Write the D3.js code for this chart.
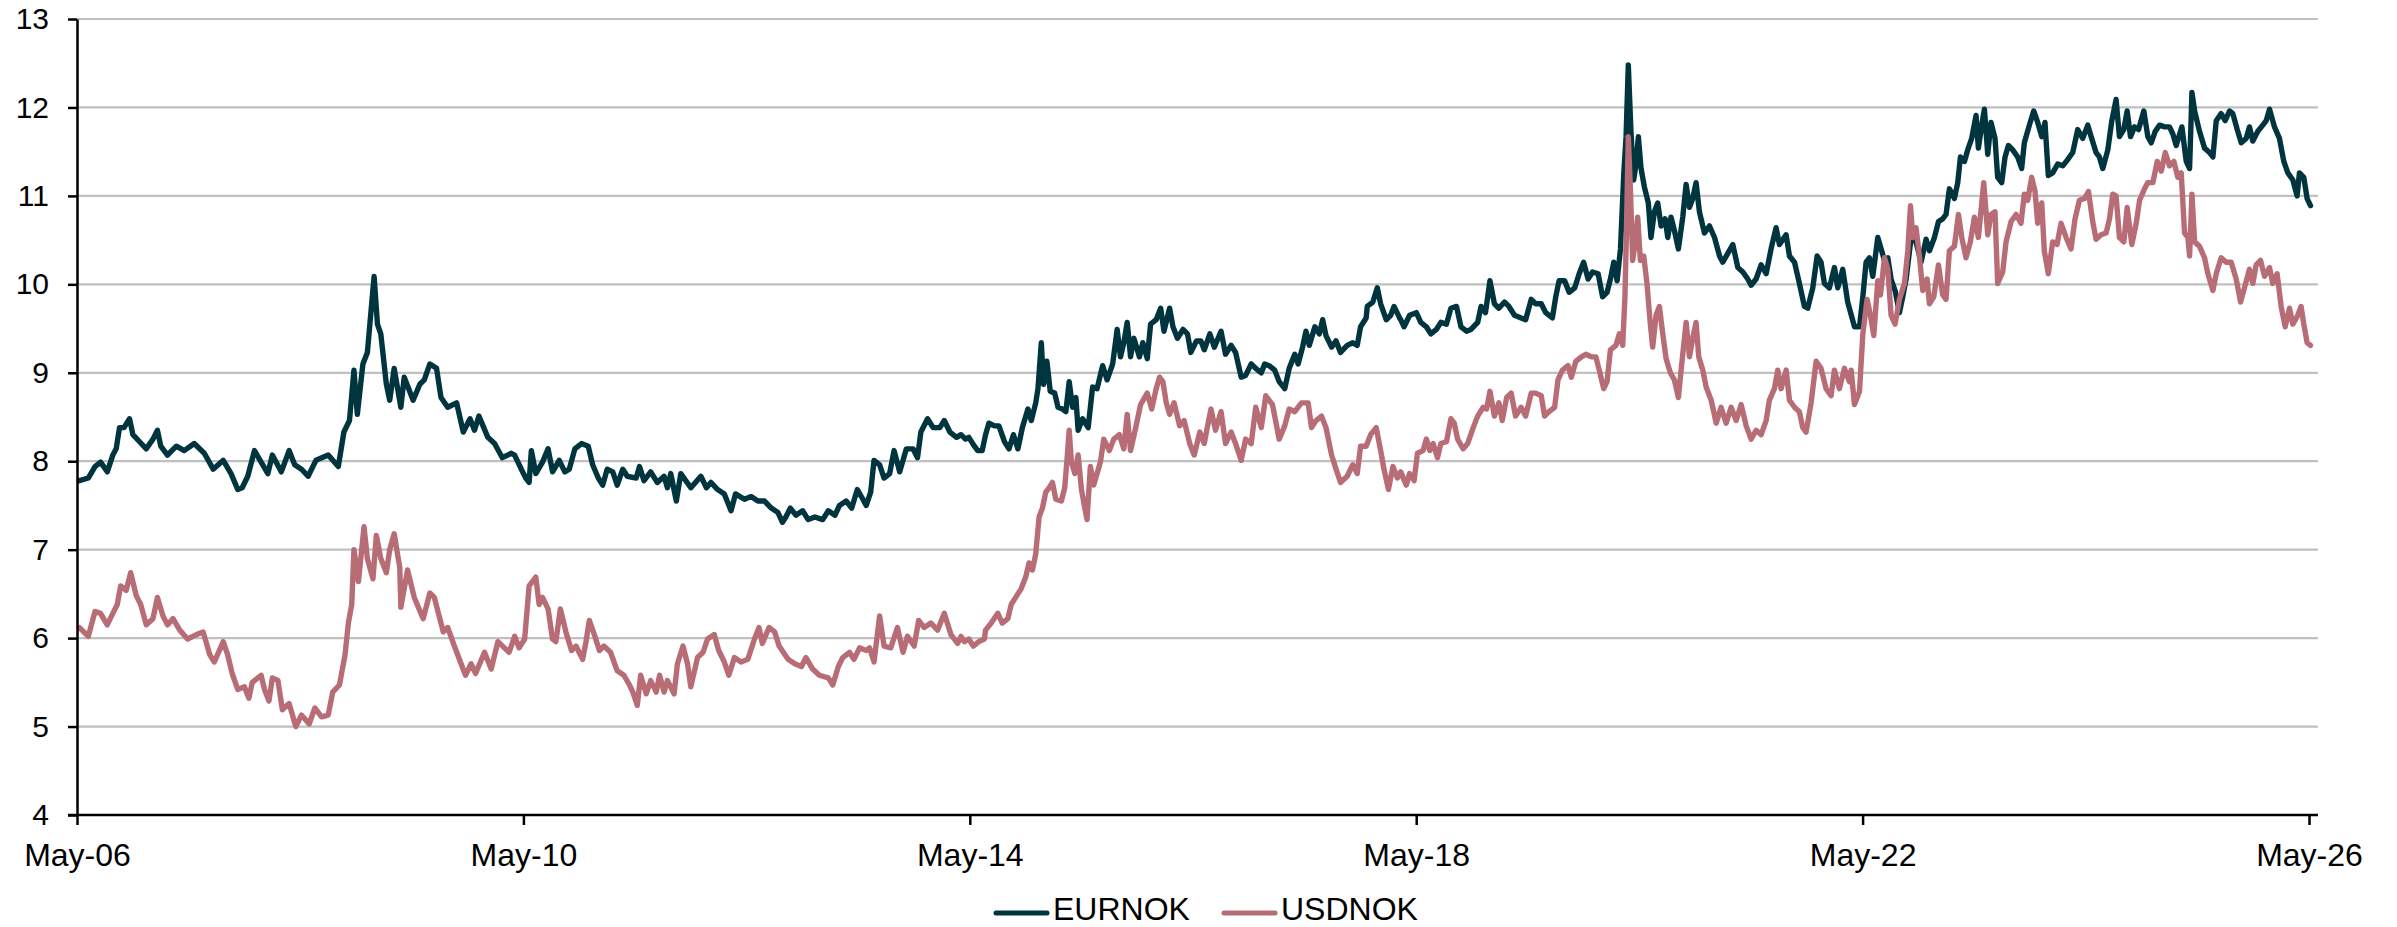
<!DOCTYPE html>
<html><head><meta charset="utf-8">
<script src="https://cdn.jsdelivr.net/npm/d3@7"></script>
<style>
html,body{margin:0;padding:0;background:#fff;}
svg{display:block;font-family:"Liberation Sans",Arial,sans-serif;}
</style></head><body>
<svg id="chart" width="2397" height="927"></svg>
<script>
// ---------- DATA ----------
const seriesNames = ["EURNOK", "USDNOK"];
const xTickYears = [2006, 2010, 2014, 2018, 2022, 2026];
const xTickLabels = ["May-06", "May-10", "May-14", "May-18", "May-22", "May-26"];
const yTicks = [4, 5, 6, 7, 8, 9, 10, 11, 12, 13];

// [decimal year, value]
const eurnok = [
[2006.35,7.78],[2006.43,7.81],[2006.49,7.94],[2006.54,7.99],[2006.60,7.88],[2006.65,8.07],[2006.68,8.14],[2006.71,8.38],[2006.75,8.38],[2006.80,8.48],[2006.83,8.30],[2006.89,8.22],[2006.95,8.14],
[2007.01,8.25],[2007.05,8.35],[2007.08,8.17],[2007.14,8.07],[2007.22,8.17],[2007.29,8.12],[2007.38,8.20],[2007.47,8.09],[2007.55,7.91],[2007.64,8.01],[2007.71,7.86],[2007.77,7.68],[2007.81,7.70],[2007.86,7.83],[2007.92,8.12],[2007.98,7.99],
[2008.04,7.86],[2008.08,8.07],[2008.16,7.88],[2008.23,8.12],[2008.28,7.96],[2008.34,7.91],[2008.40,7.83],[2008.47,8.01],[2008.58,8.07],[2008.67,7.94],[2008.72,8.33],[2008.77,8.46],[2008.81,9.03],[2008.84,8.53],[2008.89,9.10],[2008.93,9.23],[2008.99,10.09],
[2009.02,9.55],[2009.05,9.44],[2009.10,8.87],[2009.13,8.69],[2009.17,9.05],[2009.23,8.61],[2009.26,8.95],[2009.34,8.69],[2009.40,8.87],[2009.44,8.92],[2009.49,9.10],[2009.55,9.05],[2009.59,8.72],[2009.65,8.61],[2009.73,8.66],[2009.79,8.33],[2009.85,8.48],[2009.89,8.35],[2009.93,8.51],
[2010.01,8.27],[2010.07,8.20],[2010.14,8.04],[2010.22,8.09],[2010.25,8.07],[2010.31,7.91],[2010.35,7.81],[2010.38,7.76],[2010.40,8.12],[2010.44,7.86],[2010.50,7.99],[2010.55,8.14],[2010.59,7.88],[2010.65,8.01],[2010.70,7.88],[2010.74,7.91],[2010.79,8.14],[2010.85,8.20],[2010.91,8.17],[2010.95,7.96],
[2011.00,7.81],[2011.04,7.73],[2011.08,7.91],[2011.13,7.88],[2011.17,7.73],[2011.22,7.91],[2011.26,7.83],[2011.34,7.81],[2011.37,7.94],[2011.41,7.78],[2011.47,7.88],[2011.53,7.76],[2011.59,7.83],[2011.62,7.70],[2011.65,7.86],[2011.70,7.55],[2011.74,7.86],[2011.83,7.70],[2011.92,7.83],[2011.97,7.70],
[2012.01,7.76],[2012.07,7.68],[2012.13,7.63],[2012.19,7.44],[2012.23,7.63],[2012.31,7.57],[2012.37,7.60],[2012.43,7.55],[2012.49,7.55],[2012.55,7.47],[2012.61,7.42],[2012.65,7.31],[2012.68,7.37],[2012.72,7.47],[2012.77,7.39],[2012.83,7.44],[2012.88,7.34],[2012.94,7.37],
[2013.01,7.34],[2013.06,7.44],[2013.12,7.39],[2013.16,7.50],[2013.22,7.55],[2013.27,7.47],[2013.32,7.68],[2013.37,7.57],[2013.40,7.50],[2013.44,7.65],[2013.47,8.01],[2013.52,7.96],[2013.56,7.81],[2013.61,7.86],[2013.65,8.12],[2013.70,7.88],[2013.76,8.14],[2013.82,8.14],[2013.86,8.04],[2013.89,8.33],[2013.95,8.48],
[2014.00,8.38],[2014.06,8.38],[2014.10,8.46],[2014.15,8.33],[2014.21,8.27],[2014.25,8.30],[2014.29,8.25],[2014.32,8.27],[2014.37,8.17],[2014.40,8.12],[2014.44,8.12],[2014.47,8.30],[2014.50,8.43],[2014.55,8.40],[2014.59,8.40],[2014.64,8.22],[2014.68,8.14],[2014.72,8.30],[2014.76,8.14],[2014.80,8.38],[2014.85,8.59],[2014.88,8.46],[2014.92,8.66],[2014.94,8.82],[2014.97,9.34],[2014.99,8.87],
[2015.02,9.13],[2015.05,8.79],[2015.09,8.77],[2015.12,8.61],[2015.16,8.59],[2015.19,8.56],[2015.22,8.90],[2015.25,8.61],[2015.28,8.72],[2015.30,8.35],[2015.34,8.48],[2015.39,8.38],[2015.43,8.84],[2015.47,8.82],[2015.52,9.08],[2015.56,8.92],[2015.61,9.10],[2015.65,9.49],[2015.68,9.18],[2015.71,9.34],[2015.74,9.57],[2015.77,9.18],[2015.80,9.39],[2015.85,9.18],[2015.88,9.34],[2015.92,9.16],[2015.95,9.55],
[2016.00,9.60],[2016.04,9.73],[2016.07,9.47],[2016.12,9.73],[2016.15,9.52],[2016.19,9.39],[2016.24,9.49],[2016.28,9.44],[2016.31,9.23],[2016.36,9.36],[2016.40,9.36],[2016.43,9.26],[2016.48,9.44],[2016.52,9.29],[2016.58,9.47],[2016.62,9.21],[2016.67,9.31],[2016.71,9.23],[2016.76,8.95],[2016.80,8.97],[2016.85,9.10],[2016.89,9.05],[2016.94,9.00],[2016.97,9.10],
[2017.01,9.08],[2017.06,9.03],[2017.10,8.90],[2017.15,8.82],[2017.19,9.05],[2017.24,9.21],[2017.27,9.10],[2017.31,9.29],[2017.34,9.47],[2017.37,9.31],[2017.42,9.52],[2017.46,9.44],[2017.49,9.60],[2017.52,9.42],[2017.57,9.29],[2017.61,9.36],[2017.65,9.23],[2017.71,9.31],[2017.76,9.34],[2017.80,9.31],[2017.83,9.52],[2017.88,9.62],[2017.89,9.75],[2017.94,9.80],[2017.98,9.96],
[2018.01,9.78],[2018.06,9.60],[2018.10,9.65],[2018.13,9.75],[2018.18,9.62],[2018.19,9.60],[2018.22,9.52],[2018.27,9.65],[2018.33,9.68],[2018.37,9.57],[2018.42,9.52],[2018.46,9.44],[2018.51,9.49],[2018.55,9.57],[2018.60,9.55],[2018.64,9.73],[2018.69,9.75],[2018.73,9.52],[2018.78,9.47],[2018.82,9.49],[2018.88,9.57],[2018.91,9.75],[2018.95,9.68],[2018.99,10.04],
[2019.03,9.78],[2019.07,9.73],[2019.12,9.80],[2019.16,9.75],[2019.21,9.65],[2019.27,9.62],[2019.31,9.60],[2019.36,9.83],[2019.40,9.78],[2019.45,9.78],[2019.49,9.68],[2019.55,9.62],[2019.58,9.86],[2019.61,10.04],[2019.66,10.04],[2019.70,9.91],[2019.75,9.96],[2019.79,10.12],[2019.83,10.25],[2019.87,10.06],[2019.91,10.14],[2019.96,10.12],
[2020.00,9.86],[2020.04,9.91],[2020.07,10.06],[2020.10,10.25],[2020.13,10.04],[2020.16,10.40],[2020.19,11.26],[2020.21,11.67],[2020.23,12.48],[2020.254,11.72],[2020.278,11.18],[2020.299,11.36],[2020.320,11.67],[2020.344,11.31],[2020.374,11.10],[2020.409,10.92],[2020.433,10.53],[2020.463,10.82],[2020.493,10.92],[2020.523,10.66],[2020.559,10.74],[2020.583,10.53],[2020.612,10.76],[2020.642,10.61],[2020.678,10.40],[2020.717,10.76],[2020.747,11.13],[2020.777,10.87],[2020.806,10.97],[2020.836,11.15],[2020.866,10.82],[2020.911,10.58],[2020.956,10.66],
[2021.001,10.53],[2021.046,10.32],[2021.075,10.25],[2021.120,10.35],[2021.165,10.45],[2021.210,10.19],[2021.255,10.14],[2021.299,10.06],[2021.329,9.99],[2021.374,10.06],[2021.419,10.22],[2021.464,10.12],[2021.508,10.40],[2021.553,10.64],[2021.583,10.45],[2021.643,10.56],[2021.673,10.32],[2021.718,10.25],[2021.762,10.01],[2021.807,9.75],[2021.837,9.73],[2021.882,9.96],[2021.921,10.32],[2021.956,10.25],[2021.986,10.01],
[2022.031,9.96],[2022.076,10.19],[2022.106,9.96],[2022.151,10.17],[2022.195,9.80],[2022.256,9.52],[2022.301,9.52],[2022.331,9.86],[2022.360,10.25],[2022.390,10.30],[2022.420,10.09],[2022.465,10.53],[2022.495,10.40],[2022.525,10.27],[2022.555,10.30],[2022.584,10.06],[2022.620,9.93],[2022.659,9.68],[2022.689,9.86],[2022.719,10.06],[2022.764,10.53],[2022.808,10.48],[2022.853,10.25],[2022.898,10.51],[2022.928,10.38],[2022.973,10.53],
[2023.009,10.71],[2023.047,10.74],[2023.077,10.79],[2023.107,11.08],[2023.152,10.97],[2023.182,11.15],[2023.206,11.44],[2023.242,11.39],[2023.271,11.52],[2023.307,11.65],[2023.346,11.91],[2023.367,11.54],[2023.397,11.80],[2023.421,11.98],[2023.451,11.47],[2023.480,11.83],[2023.516,11.65],[2023.540,11.21],[2023.576,11.15],[2023.606,11.44],[2023.636,11.57],[2023.675,11.52],[2023.719,11.44],[2023.755,11.31],[2023.779,11.60],[2023.824,11.80],[2023.863,11.96],[2023.899,11.83],[2023.935,11.67],[2023.964,11.83],[2023.994,11.23],
[2024.033,11.26],[2024.078,11.36],[2024.123,11.34],[2024.167,11.41],[2024.212,11.49],[2024.257,11.75],[2024.302,11.65],[2024.347,11.80],[2024.377,11.67],[2024.421,11.49],[2024.451,11.44],[2024.481,11.31],[2024.526,11.52],[2024.562,11.85],[2024.600,12.09],[2024.630,11.67],[2024.669,11.75],[2024.699,11.96],[2024.729,11.67],[2024.765,11.78],[2024.801,11.75],[2024.848,11.96],[2024.884,11.67],[2024.914,11.60],[2024.950,11.73],[2024.989,11.80],
[2025.034,11.78],[2025.078,11.78],[2025.108,11.70],[2025.138,11.57],[2025.189,11.78],[2025.228,11.39],[2025.258,11.31],[2025.279,12.17],[2025.303,11.96],[2025.347,11.73],[2025.392,11.54],[2025.437,11.49],[2025.467,11.44],[2025.497,11.85],[2025.541,11.93],[2025.577,11.85],[2025.616,11.96],[2025.646,11.93],[2025.685,11.75],[2025.721,11.60],[2025.765,11.65],[2025.795,11.78],[2025.825,11.62],[2025.870,11.73],[2025.915,11.80],[2025.945,11.85],[2025.975,11.98],
[2026.019,11.78],[2026.064,11.65],[2026.103,11.39],[2026.139,11.26],[2026.184,11.18],[2026.222,11.00],[2026.243,11.26],[2026.282,11.21],[2026.312,10.97],[2026.342,10.89]
];

const usdnok = [
[2006.35,6.12],[2006.43,6.02],[2006.49,6.30],[2006.54,6.28],[2006.60,6.15],[2006.65,6.28],[2006.69,6.38],[2006.72,6.59],[2006.77,6.54],[2006.81,6.74],[2006.86,6.48],[2006.90,6.38],[2006.95,6.15],
[2007.01,6.22],[2007.05,6.46],[2007.10,6.25],[2007.14,6.15],[2007.19,6.22],[2007.25,6.09],[2007.32,5.99],[2007.40,6.04],[2007.46,6.07],[2007.52,5.81],[2007.56,5.73],[2007.64,5.96],[2007.68,5.81],[2007.72,5.60],[2007.77,5.42],[2007.83,5.45],[2007.87,5.32],[2007.90,5.50],[2007.98,5.58],
[2008.01,5.42],[2008.05,5.29],[2008.08,5.55],[2008.13,5.52],[2008.17,5.19],[2008.23,5.26],[2008.29,5.00],[2008.34,5.13],[2008.41,5.03],[2008.46,5.21],[2008.52,5.11],[2008.58,5.13],[2008.62,5.39],[2008.68,5.47],[2008.73,5.81],[2008.76,6.17],[2008.79,6.38],[2008.81,7.00],[2008.85,6.64],[2008.90,7.26],[2008.93,6.90],[2008.98,6.67],
[2009.01,7.16],[2009.05,6.90],[2009.10,6.74],[2009.13,7.00],[2009.17,7.18],[2009.22,6.80],[2009.23,6.35],[2009.29,6.77],[2009.35,6.46],[2009.43,6.22],[2009.49,6.51],[2009.53,6.46],[2009.61,6.07],[2009.65,6.12],[2009.71,5.91],[2009.77,5.71],[2009.81,5.58],[2009.86,5.71],[2009.90,5.60],[2009.98,5.84],
[2010.04,5.65],[2010.10,5.96],[2010.20,5.84],[2010.22,5.91],[2010.25,6.02],[2010.29,5.89],[2010.34,5.99],[2010.38,6.59],[2010.41,6.64],[2010.44,6.69],[2010.47,6.38],[2010.50,6.46],[2010.55,6.33],[2010.59,5.99],[2010.62,5.96],[2010.66,6.33],[2010.71,6.07],[2010.76,5.86],[2010.80,5.91],[2010.86,5.76],[2010.89,5.96],[2010.92,6.20],[2010.97,6.02],
[2011.01,5.86],[2011.05,5.91],[2011.11,5.84],[2011.17,5.63],[2011.23,5.58],[2011.28,5.47],[2011.31,5.39],[2011.35,5.24],[2011.38,5.58],[2011.43,5.37],[2011.47,5.52],[2011.52,5.39],[2011.55,5.58],[2011.59,5.39],[2011.62,5.52],[2011.68,5.37],[2011.71,5.71],[2011.76,5.91],[2011.80,5.71],[2011.83,5.45],[2011.89,5.78],[2011.94,5.84],[2011.98,5.99],
[2012.04,6.04],[2012.08,5.86],[2012.13,5.73],[2012.17,5.58],[2012.22,5.78],[2012.28,5.73],[2012.34,5.76],[2012.40,5.99],[2012.44,6.12],[2012.47,5.94],[2012.53,6.12],[2012.58,6.07],[2012.62,5.91],[2012.70,5.76],[2012.76,5.71],[2012.82,5.68],[2012.86,5.78],[2012.92,5.65],[2012.98,5.58],
[2013.06,5.55],[2013.10,5.47],[2013.15,5.68],[2013.19,5.78],[2013.25,5.84],[2013.29,5.76],[2013.34,5.89],[2013.40,5.86],[2013.43,5.89],[2013.47,5.73],[2013.52,6.25],[2013.56,5.91],[2013.62,5.89],[2013.68,6.12],[2013.73,5.84],[2013.77,6.02],[2013.83,5.91],[2013.87,6.20],[2013.92,6.12],[2013.98,6.17],
[2014.04,6.09],[2014.10,6.28],[2014.16,6.04],[2014.22,5.94],[2014.25,6.02],[2014.28,5.96],[2014.32,5.99],[2014.36,5.91],[2014.41,5.96],[2014.46,5.99],[2014.47,6.09],[2014.52,6.17],[2014.58,6.28],[2014.62,6.17],[2014.67,6.22],[2014.70,6.38],[2014.74,6.46],[2014.79,6.56],[2014.83,6.69],[2014.86,6.85],[2014.89,6.77],[2014.92,6.95],[2014.95,7.37],[2014.98,7.47],
[2015.01,7.65],[2015.04,7.70],[2015.07,7.76],[2015.10,7.57],[2015.15,7.55],[2015.18,7.70],[2015.20,8.01],[2015.22,8.35],[2015.24,7.99],[2015.27,7.86],[2015.30,8.07],[2015.33,7.68],[2015.36,7.47],[2015.38,7.34],[2015.41,7.94],[2015.44,7.73],[2015.47,7.86],[2015.50,7.99],[2015.53,8.25],[2015.58,8.12],[2015.62,8.25],[2015.67,8.30],[2015.71,8.14],[2015.74,8.53],[2015.77,8.12],[2015.82,8.40],[2015.86,8.64],[2015.92,8.77],[2015.96,8.59],
[2016.00,8.82],[2016.03,8.95],[2016.06,8.90],[2016.09,8.66],[2016.12,8.53],[2016.16,8.66],[2016.21,8.40],[2016.25,8.46],[2016.30,8.20],[2016.34,8.07],[2016.39,8.33],[2016.43,8.20],[2016.46,8.40],[2016.49,8.59],[2016.53,8.35],[2016.58,8.56],[2016.62,8.20],[2016.67,8.33],[2016.71,8.20],[2016.76,8.01],[2016.80,8.25],[2016.85,8.20],[2016.89,8.61],[2016.94,8.38],[2016.98,8.74],
[2017.04,8.64],[2017.10,8.25],[2017.15,8.40],[2017.19,8.59],[2017.24,8.56],[2017.30,8.66],[2017.36,8.66],[2017.39,8.38],[2017.43,8.46],[2017.48,8.51],[2017.52,8.38],[2017.57,8.07],[2017.61,7.91],[2017.65,7.76],[2017.71,7.83],[2017.76,7.96],[2017.80,7.86],[2017.83,8.17],[2017.88,8.17],[2017.92,8.30],[2017.97,8.38],
[2018.01,8.12],[2018.04,7.91],[2018.08,7.68],[2018.12,7.94],[2018.16,7.81],[2018.19,7.88],[2018.24,7.73],[2018.27,7.86],[2018.31,7.78],[2018.34,8.09],[2018.39,8.12],[2018.42,8.25],[2018.45,8.12],[2018.48,8.20],[2018.52,8.04],[2018.55,8.20],[2018.60,8.22],[2018.64,8.48],[2018.67,8.43],[2018.70,8.25],[2018.75,8.14],[2018.79,8.20],[2018.84,8.38],[2018.88,8.51],[2018.93,8.61],[2018.96,8.59],[2018.99,8.79],
[2019.03,8.51],[2019.07,8.66],[2019.10,8.46],[2019.14,8.72],[2019.18,8.77],[2019.22,8.51],[2019.27,8.61],[2019.31,8.51],[2019.36,8.77],[2019.40,8.77],[2019.45,8.74],[2019.48,8.51],[2019.52,8.56],[2019.57,8.61],[2019.60,8.92],[2019.64,9.03],[2019.69,9.08],[2019.72,8.95],[2019.76,9.13],[2019.81,9.18],[2019.85,9.21],[2019.90,9.18],[2019.94,9.18],[2019.97,9.03],
[2020.01,8.82],[2020.04,8.90],[2020.07,9.26],[2020.12,9.31],[2020.15,9.44],[2020.18,9.31],[2020.20,9.86],[2020.215,10.69],[2020.23,11.67],[2020.248,11.10],[2020.269,10.27],[2020.293,10.48],[2020.314,10.76],[2020.338,10.27],[2020.368,10.32],[2020.397,10.01],[2020.427,9.55],[2020.448,9.29],[2020.478,9.65],[2020.508,9.75],[2020.538,9.44],[2020.568,9.16],[2020.606,9.00],[2020.642,8.92],[2020.678,8.72],[2020.702,9.03],[2020.747,9.57],[2020.777,9.18],[2020.806,9.39],[2020.836,9.57],[2020.860,9.18],[2020.896,9.03],[2020.926,8.84],[2020.971,8.69],
[2021.016,8.43],[2021.060,8.61],[2021.105,8.43],[2021.150,8.61],[2021.195,8.46],[2021.240,8.64],[2021.285,8.40],[2021.329,8.25],[2021.374,8.35],[2021.419,8.30],[2021.464,8.46],[2021.493,8.69],[2021.538,8.82],[2021.568,9.03],[2021.598,8.82],[2021.643,9.03],[2021.673,8.69],[2021.718,8.61],[2021.762,8.56],[2021.792,8.38],[2021.822,8.33],[2021.867,8.66],[2021.912,9.13],[2021.956,9.05],
[2022.001,8.82],[2022.046,8.74],[2022.076,9.03],[2022.121,8.82],[2022.166,9.05],[2022.210,8.90],[2022.226,9.03],[2022.256,8.64],[2022.301,8.79],[2022.331,9.44],[2022.369,9.83],[2022.399,9.65],[2022.429,9.42],[2022.465,10.04],[2022.489,9.88],[2022.525,10.30],[2022.555,10.17],[2022.584,9.65],[2022.620,9.55],[2022.659,9.83],[2022.704,10.01],[2022.734,10.38],[2022.758,10.89],[2022.779,10.53],[2022.808,10.64],[2022.838,10.32],[2022.868,9.93],[2022.907,10.06],[2022.928,9.78],[2022.967,9.86],
[2023.009,10.22],[2023.047,9.88],[2023.077,9.83],[2023.107,10.38],[2023.152,10.43],[2023.188,10.79],[2023.218,10.53],[2023.256,10.30],[2023.295,10.48],[2023.331,10.76],[2023.367,10.53],[2023.415,11.15],[2023.451,10.56],[2023.480,10.79],[2023.516,10.82],[2023.540,10.01],[2023.585,10.14],[2023.615,10.48],[2023.660,10.71],[2023.705,10.79],[2023.749,10.69],[2023.779,11.02],[2023.809,10.95],[2023.845,11.21],[2023.875,11.05],[2023.899,10.69],[2023.935,10.92],[2023.958,10.38],[2023.994,10.12],
[2024.033,10.48],[2024.072,10.45],[2024.108,10.69],[2024.153,10.53],[2024.197,10.40],[2024.233,10.74],[2024.272,10.95],[2024.317,10.97],[2024.353,11.05],[2024.391,10.71],[2024.421,10.51],[2024.466,10.56],[2024.511,10.58],[2024.541,10.74],[2024.571,11.02],[2024.600,11.00],[2024.630,10.53],[2024.669,10.48],[2024.699,10.87],[2024.741,10.45],[2024.780,10.69],[2024.810,10.95],[2024.854,11.08],[2024.884,11.15],[2024.929,11.15],[2024.968,11.39],
[2025.004,11.28],[2025.040,11.49],[2025.078,11.34],[2025.117,11.39],[2025.153,11.21],[2025.183,11.26],[2025.213,10.58],[2025.243,10.53],[2025.258,10.32],[2025.279,11.02],[2025.303,10.48],[2025.347,10.43],[2025.392,10.30],[2025.422,10.12],[2025.467,9.93],[2025.497,10.12],[2025.541,10.30],[2025.586,10.25],[2025.631,10.25],[2025.676,10.06],[2025.715,9.80],[2025.750,9.96],[2025.795,10.17],[2025.825,10.01],[2025.855,10.22],[2025.894,10.27],[2025.930,10.09],[2025.975,10.19],
[2026.004,10.01],[2026.043,10.12],[2026.079,9.75],[2026.115,9.52],[2026.154,9.73],[2026.184,9.55],[2026.228,9.65],[2026.258,9.75],[2026.282,9.55],[2026.312,9.34],[2026.342,9.31]
];

// ---------- CHART ----------
const colors = {EURNOK: "#003540", USDNOK: "#B86C76"};
const W = 2397, H = 927;
const margin = {left: 77, right: 2309, top: 19, bottom: 815, gridEnd: 2318};

function decYear(t) {
  const y = Math.floor(t);
  const a = Date.UTC(y, 0, 1), b = Date.UTC(y + 1, 0, 1);
  return new Date(a + (t - y) * (b - a));
}

const x = d3.scaleUtc()
  .domain([new Date(Date.UTC(2006, 4, 1)), new Date(Date.UTC(2026, 4, 1))])
  .range([margin.left, margin.right]);
const y = d3.scaleLinear().domain([4, 13]).range([margin.bottom, margin.top]);

const svg = d3.select("#chart");
svg.append("rect").attr("width", W).attr("height", H).attr("fill", "#fff");

// gridlines
svg.append("g").selectAll("line")
  .data(yTicks.filter(v => v !== 4))
  .join("line")
  .attr("x1", margin.left).attr("x2", margin.gridEnd)
  .attr("y1", d => y(d)).attr("y2", d => y(d))
  .attr("stroke", "#C0C0C0").attr("stroke-width", 2.2);

// series
const line = d3.line().x(d => x(decYear(d[0]))).y(d => y(d[1]));
const seriesData = {EURNOK: eurnok, USDNOK: usdnok};
seriesNames.forEach(name => {
  svg.append("path")
    .datum(seriesData[name])
    .attr("fill", "none")
    .attr("stroke", colors[name])
    .attr("stroke-width", 5.4)
    .attr("stroke-linejoin", "round")
    .attr("stroke-linecap", "round")
    .attr("d", line);
});

// y axis
const yAxis = svg.append("g")
  .attr("transform", `translate(${margin.left},0)`)
  .call(d3.axisLeft(y).tickValues(yTicks).tickFormat(d3.format("d"))
    .tickSize(9).tickSizeOuter(0).tickPadding(19));
yAxis.selectAll("line, path").attr("stroke", "#000").attr("stroke-width", 2.5);
yAxis.selectAll("text").attr("font-size", 30).attr("fill", "#000")
  .attr("font-family", "'Liberation Sans', Arial, sans-serif");

// x axis
const xTickDates = xTickYears.map(yr => new Date(Date.UTC(yr, 4, 1)));
const xAxis = svg.append("g")
  .attr("transform", `translate(0,${margin.bottom})`)
  .call(d3.axisBottom(x).tickValues(xTickDates).tickFormat((d, i) => xTickLabels[i])
    .tickSize(10).tickSizeOuter(0).tickPadding(18));
xAxis.select(".domain").remove();
xAxis.selectAll("line").attr("stroke", "#000").attr("stroke-width", 2.5);
xAxis.selectAll("text").attr("font-size", 32).attr("fill", "#000")
  .attr("font-family", "'Liberation Sans', Arial, sans-serif");
svg.append("line")
  .attr("x1", margin.left - 9).attr("x2", margin.gridEnd)
  .attr("y1", margin.bottom).attr("y2", margin.bottom)
  .attr("stroke", "#000").attr("stroke-width", 2.5);

// legend
const legendX = [994, 1222];
const legend = svg.append("g");
seriesNames.forEach((name, i) => {
  const g = legend.append("g").attr("transform", `translate(${legendX[i]},913)`);
  g.append("line").attr("x1", 2).attr("x2", 53).attr("y1", 0).attr("y2", 0)
    .attr("stroke", colors[name]).attr("stroke-width", 5).attr("stroke-linecap", "round");
  g.append("text").attr("x", 59).attr("y", 7).attr("font-size", 32).attr("fill", "#000")
    .text(name);
});
</script>
</body></html>
